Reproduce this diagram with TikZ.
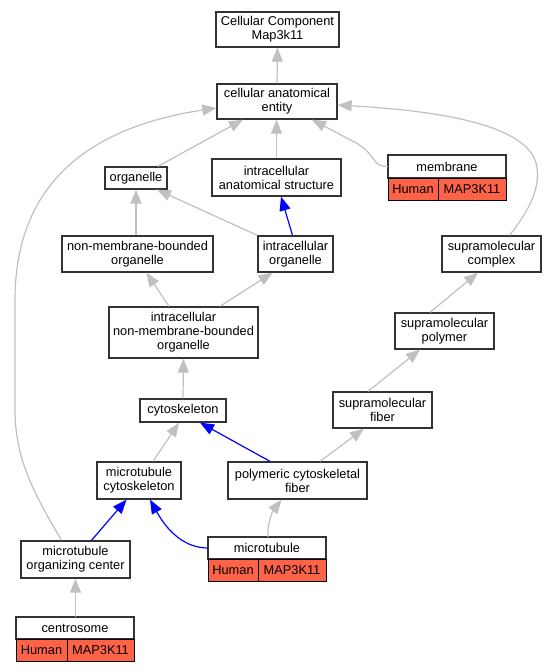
\documentclass[tikz,border=0pt]{standalone}
\usepackage{fontspec}
\newfontfamily\termfont{Liberation Sans}
\usetikzlibrary{arrows.meta}
\definecolor{isagray}{RGB}{192,192,192}
\definecolor{genered}{RGB}{255,99,71}
\begin{document}
\begin{tikzpicture}%
	[x=1pt, y=-1pt,
	term/.style={draw=black!80, line width=1.3pt, fill=white, align=center, inner sep=0pt,
		font=\termfont\fontsize{12.8}{14}\selectfont},
	gene/.style={term, outer sep=0pt},
	cell/.style={term, draw=black, line width=1pt, outer sep=0pt, fill=genered, anchor=north west, minimum height=22pt},
	isa/.style={draw=isagray, line width=1.2pt, -{Triangle[length=14pt,width=11pt,color=isagray]}},
	partof/.style={draw=blue, line width=1.2pt, -{Triangle[length=14pt,width=11pt,color=blue]}}]
	%
	\useasboundingbox (0,0) rectangle (557,672);
	%
	%% Drawing the terms
	%%
	\node[term, minimum width=123pt, minimum height=35pt] (cc) at (277.5,29.5) {Cellular Component\\Map3k11};
	\node[term, minimum width=120pt, minimum height=35pt] (cae) at (277,101.5) {cellular anatomical\\entity};
	\node[term, minimum width=62pt, minimum height=22pt] (organelle) at (136,178) {organelle};
	\node[term, minimum width=129pt, minimum height=37pt] (ias) at (276.5,177.5) {intracellular\\anatomical structure};
	\node[term, minimum width=151pt, minimum height=36pt] (nmbo) at (137.5,254) {non-membrane-bounded\\organelle};
	\node[term, minimum width=75pt, minimum height=36pt] (io) at (295.5,254) {intracellular\\organelle};
	\node[term, minimum width=99pt, minimum height=36pt] (smcomplex) at (491.5,254) {supramolecular\\complex};
	\node[term, minimum width=149pt, minimum height=51pt] (inmbo) at (183.5,332.5) {intracellular\\non-membrane-bounded\\organelle};
	\node[term, minimum width=99pt, minimum height=36pt] (smpolymer) at (444.5,331) {supramolecular\\polymer};
	\node[term, minimum width=86pt, minimum height=23pt] (cytoskeleton) at (183,410.5) {cytoskeleton};
	\node[term, minimum width=99pt, minimum height=36pt] (smfiber) at (382.5,410) {supramolecular\\fiber};
	\node[term, minimum width=84pt, minimum height=37pt] (mtcyto) at (139,480.5) {microtubule\\cytoskeleton};
	\node[term, minimum width=139pt, minimum height=37pt] (pcfiber) at (297.5,480.5) {polymeric cytoskeletal\\fiber};
	\node[term, minimum width=109pt, minimum height=37pt] (mtoc) at (75.5,559.5) {microtubule\\organizing center};
	%%
	%% Drawing the annotated terms
	%%
	\node[gene, minimum width=118pt, minimum height=23pt] (membrane) at (447,166.5) {membrane};
	\node[cell, minimum width=50pt] (membrane-sp) at (membrane.south west) {Human};
	\node[cell, minimum width=68pt] (membrane-gn) at (membrane-sp.north east) {MAP3K11};
	\node[gene, minimum width=118pt, minimum height=22pt] (microtubule) at (267,548) {microtubule};
	\node[cell, minimum width=50pt] (microtubule-sp) at (microtubule.south west) {Human};
	\node[cell, minimum width=68pt] (microtubule-gn) at (microtubule-sp.north east) {MAP3K11};
	\node[gene, minimum width=118pt, minimum height=22pt] (centrosome) at (75,628) {centrosome};
	\node[cell, minimum width=51pt] (centrosome-sp) at (centrosome.south west) {Human};
	\node[cell, minimum width=67pt] (centrosome-gn) at (centrosome-sp.north east) {MAP3K11};
	%%
	%% Drawing the is_a edges
	%%
	\draw[isa] (cae.north) -- (cc.south);
	\draw[isa] ([xshift=22pt]organelle.north) -- ([xshift=-34pt]cae.south);
	\draw[isa] (ias.north) -- (ias.north |- cae.south);
	\draw[isa] (membrane.west) .. controls (372,167) and (376,155) .. (358,144) -- ([xshift=35pt]cae.south);
	\draw[isa] ([xshift=18pt]smcomplex.north) .. controls (528,212) and (540,190) .. (537,168)
		.. controls (533,130) and (460,112) .. ([yshift=-3.5pt]cae.east);
	\draw[isa] ([xshift=-14pt]mtoc.north) .. controls (35,495) and (15,460) .. (15,410) -- (15,300)
		.. controls (15,200) and (70,130) .. ([yshift=-6.5pt]cae.west);
	\draw[isa] (nmbo.north -| organelle) -- (organelle.south);
	\draw[isa] (io.north west) -- ([xshift=21pt]organelle.south);
	\draw[isa] ([xshift=-14.5pt]inmbo.north) -- ([xshift=9pt]nmbo.south);
	\draw[isa] ([xshift=36.5pt]inmbo.north) -- ([xshift=-23pt]io.south);
	\draw[isa] (cytoskeleton.north) -- (inmbo.south);
	\draw[isa] ([xshift=-14.5pt]smpolymer.north) -- ([xshift=-13.5pt]smcomplex.south);
	\draw[isa] ([xshift=-14.5pt]smfiber.north) -- ([xshift=-24.5pt]smpolymer.south);
	\draw[isa] ([xshift=14pt]mtcyto.north) -- ([xshift=-4pt]cytoskeleton.south);
	\draw[isa] ([xshift=22.5pt]pcfiber.north) -- ([xshift=-18.5pt]smfiber.south);
	\draw[isa] ([xshift=1pt]microtubule.north) .. controls (267,525) and (272,512) .. ([xshift=-16pt]pcfiber.south);
	\draw[isa] (centrosome.north -| mtoc) -- (mtoc.south);
	%%
	%% Drawing the part_of edges
	%%
	\draw[partof] ([xshift=-3pt]io.north) -- ([xshift=4.5pt]ias.south);
	\draw[partof] ([xshift=-27.5pt]pcfiber.north) -- ([xshift=17pt]cytoskeleton.south);
	\draw[partof] ([xshift=16pt]mtoc.north) -- ([xshift=-12.5pt]mtcyto.south);
	\draw[partof] (microtubule.west) .. controls (185,548) and (168,532) .. ([xshift=11pt]mtcyto.south);
	%%
\end{tikzpicture}
\end{document}
